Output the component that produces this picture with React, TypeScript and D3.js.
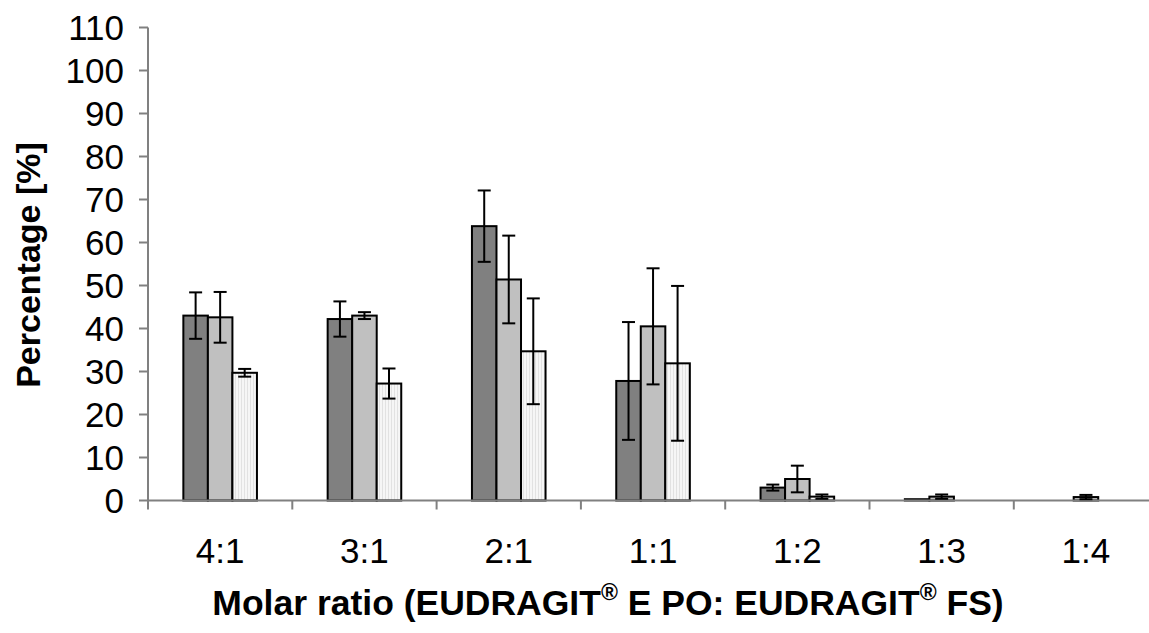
import React, { useEffect, useRef } from "react";
import * as d3 from "d3";

const categories = ["4:1", "3:1", "2:1", "1:1", "1:2", "1:3", "1:4"];
const seriesA = [43.0, 42.2, 63.8, 27.8, 3.0, 0.3, 0];
const errA = [5.4, 4.1, 8.3, 13.7, 0.7, 0, 0];
const seriesB = [42.6, 43.0, 51.4, 40.5, 5.0, 0.9, 0.8];
const errB = [5.9, 0.8, 10.2, 13.5, 3.1, 0.5, 0.5];
const seriesC = [29.7, 27.2, 34.7, 31.9, 0.9, 0, 0];
const errC = [0.9, 3.5, 12.3, 18.0, 0.5, 0, 0];
const yTicks = [0, 10, 20, 30, 40, 50, 60, 70, 80, 90, 100, 110];

const W = 1149;
const H = 633;
const FONT = "'Liberation Sans', Arial, sans-serif";

export default function App() {
  const ref = useRef<SVGSVGElement | null>(null);

  useEffect(() => {
    const svg = d3.select(ref.current);
    svg.selectAll("*").remove();

    const left = 148;
    const bottom = 500.5;
    const top = 27.5;
    const catW = 144.3;

    const x = d3
      .scaleBand<string>()
      .domain(categories)
      .range([left, left + catW * categories.length])
      .paddingInner(0)
      .paddingOuter(0);
    const y = d3.scaleLinear().domain([0, 110]).range([bottom, top]);

    const defs = svg.append("defs");
    const pat = defs
      .append("pattern")
      .attr("id", "vstripe")
      .attr("patternUnits", "userSpaceOnUse")
      .attr("width", 3)
      .attr("height", 4);
    pat.append("rect").attr("width", 3).attr("height", 4).attr("fill", "#f6f6f6");
    pat.append("rect").attr("x", 1).attr("width", 1).attr("height", 4).attr("fill", "#e2e2e2");

    const series = [
      { values: seriesA, errs: errA, fill: "#808080" },
      { values: seriesB, errs: errB, fill: "#c0c0c0" },
      { values: seriesC, errs: errC, fill: "url(#vstripe)" },
    ];

    const groupW = catW * 0.51;
    const inner = d3
      .scaleBand<number>()
      .domain([0, 1, 2])
      .range([0, groupW])
      .padding(0);

    const g = svg.append("g");

    // bars
    series.forEach((s, si) => {
      g.selectAll(`rect.s${si}`)
        .data(categories)
        .enter()
        .append("rect")
        .attr("x", (c) => x(c)! + (catW - groupW) / 2 + inner(si)!)
        .attr("y", (_c, i) => y(s.values[i]))
        .attr("width", inner.bandwidth())
        .attr("height", (_c, i) => bottom - y(s.values[i]))
        .attr("fill", s.fill)
        .attr("stroke", "#000")
        .attr("stroke-width", 2);
    });

    // axes
    const axisColor = "#808080";
    g.append("line")
      .attr("x1", left)
      .attr("x2", W)
      .attr("y1", bottom)
      .attr("y2", bottom)
      .attr("stroke", axisColor)
      .attr("stroke-width", 2);
    g.append("line")
      .attr("x1", left)
      .attr("x2", left)
      .attr("y1", top)
      .attr("y2", bottom + 9)
      .attr("stroke", axisColor)
      .attr("stroke-width", 2);

    yTicks.forEach((t) => {
      g.append("line")
        .attr("x1", left - 9)
        .attr("x2", left)
        .attr("y1", y(t))
        .attr("y2", y(t))
        .attr("stroke", axisColor)
        .attr("stroke-width", 2);
      g.append("text")
        .attr("x", 124)
        .attr("y", y(t))
        .attr("dy", "0.36em")
        .attr("text-anchor", "end")
        .attr("font-family", FONT)
        .attr("font-size", 35)
        .attr("fill", "#000")
        .text(String(t));
    });

    categories.forEach((c, i) => {
      const xe = x(c)! + catW;
      if (i < categories.length - 1) {
        g.append("line")
          .attr("x1", xe)
          .attr("x2", xe)
          .attr("y1", bottom)
          .attr("y2", bottom + 9)
          .attr("stroke", axisColor)
          .attr("stroke-width", 2);
      }
      g.append("text")
        .attr("x", x(c)! + catW / 2)
        .attr("y", 563)
        .attr("text-anchor", "middle")
        .attr("font-family", FONT)
        .attr("font-size", 35)
        .attr("fill", "#000")
        .text(c);
    });

    // error bars
    series.forEach((s, si) => {
      categories.forEach((c, i) => {
        const e = s.errs[i];
        if (e <= 0) return;
        const cx = x(c)! + (catW - groupW) / 2 + inner(si)! + inner.bandwidth() / 2;
        const y1 = y(s.values[i] + e);
        const y0 = y(Math.max(0, s.values[i] - e));
        const eg = g.append("g").attr("stroke", "#000").attr("stroke-width", 2);
        eg.append("line").attr("x1", cx).attr("x2", cx).attr("y1", y1).attr("y2", y0);
        eg.append("line").attr("x1", cx - 6.5).attr("x2", cx + 6.5).attr("y1", y1).attr("y2", y1);
        eg.append("line").attr("x1", cx - 6.5).attr("x2", cx + 6.5).attr("y1", y0).attr("y2", y0);
      });
    });

    // axis titles
    svg
      .append("text")
      .attr("transform", "translate(40,265) rotate(-90)")
      .attr("text-anchor", "middle")
      .attr("font-family", FONT)
      .attr("font-weight", "bold")
      .attr("font-size", 34)
      .attr("fill", "#000")
      .text("Percentage [%]");

    const xt = svg
      .append("text")
      .attr("x", 608)
      .attr("y", 615)
      .attr("text-anchor", "middle")
      .attr("font-family", FONT)
      .attr("font-weight", "bold")
      .attr("font-size", 35.5)
      .attr("fill", "#000");
    xt.append("tspan").text("Molar ratio (EUDRAGIT");
    xt.append("tspan").attr("dy", -15).attr("font-size", 23).text("®");
    xt.append("tspan").attr("dy", 15).text(" E PO: EUDRAGIT");
    xt.append("tspan").attr("dy", -15).attr("font-size", 23).text("®");
    xt.append("tspan").attr("dy", 15).text(" FS)");
  }, []);

  return (
    <svg
      ref={ref}
      width={W}
      height={H}
      style={{ position: "absolute", left: 0, top: 0, background: "#fff" }}
    />
  );
}
